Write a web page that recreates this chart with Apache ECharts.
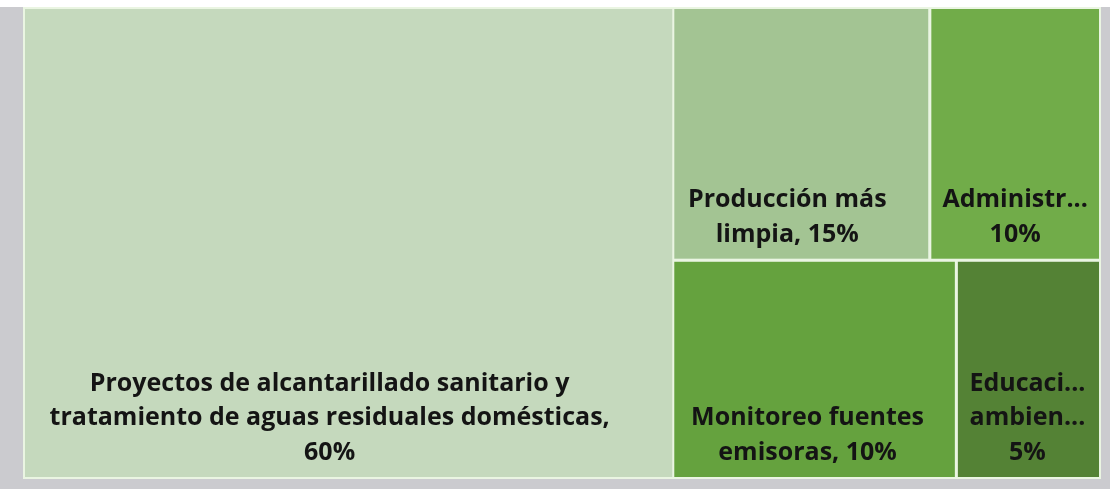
<!DOCTYPE html>
<html>
<head>
<meta charset="utf-8">
<script src="https://cdn.jsdelivr.net/npm/echarts@6/dist/echarts.min.js"></script>
<style>
  html, body { margin: 0; padding: 0; background: #cbcbcf; }
  #chart { width: 1110px; height: 489px; }
</style>
</head>
<body>
<div id="chart"></div>
<script>
// Category labels as displayed (truncated in the original); {p} = percentage
const labels = [
  "Proyectos de alcantarillado sanitario y\ntratamiento de aguas residuales domésticas,\n{p}%",
  "Producción más\nlimpia, {p}%",
  "Administr...\n{p}%",
  "Monitoreo fuentes\nemisoras, {p}%",
  "Educaci...\nambien...\n{p}%"
];
// Percentages printed in the labels
const pctLabels = [60, 15, 10, 10, 5];
// Tile area shares
const areaShares = [60.4, 12.8, 8.5, 12.2, 6.2];

// Styling (kept apart from the data)
const colors = ["#c5d9bd", "#a3c493", "#71ac49", "#65a23e", "#548235"];
const labelShiftX = [-19, -14, 0, -7, -1];

function leaf(i) {
  return {
    name: labels[i].replace(/\n/g, ' ').replace('{p}', pctLabels[i]),
    value: areaShares[i],
    labelText: labels[i].replace('{p}', pctLabels[i]),
    itemStyle: { color: colors[i] },
    label: { offset: [labelShiftX[i], 0] }
  };
}

const data = [
  leaf(0),
  {
    name: "rest",
    children: [
      { name: "top", children: [leaf(1), leaf(2)] },
      { name: "bottom", children: [leaf(3), leaf(4)] }
    ]
  }
];

const chart = echarts.init(document.getElementById('chart'));
chart.setOption({
  backgroundColor: '#cbcbcf',
  animation: false,
  graphic: [{
    type: 'rect', shape: { x: 0, y: 0, width: 1110, height: 7 },
    style: { fill: '#ffffff' }, z: -10
  }],
  series: [{
    type: 'treemap',
    left: 23, top: 7, width: 1078, height: 472,
    roam: false,
    nodeClick: false,
    breadcrumb: { show: false },
    squareRatio: 1,
    label: {
      show: true,
      position: 'insideBottom',
      distance: 2,
      align: 'center',
      overflow: 'none',
      fontFamily: 'Open Sans',
      fontWeight: 'bold',
      fontSize: 25,
      lineHeight: 34.5,
      color: '#141414',
      formatter: p => p.data.labelText
    },
    upperLabel: { show: false },
    itemStyle: { borderWidth: 0, gapWidth: 0 },
    levels: [
      { itemStyle: { borderWidth: 2, borderColor: '#eaf5e2', gapWidth: 2 } },
      { itemStyle: { borderWidth: 0, borderColor: '#eaf5e2', gapWidth: 3 } },
      { itemStyle: { borderWidth: 0, borderColor: '#eaf5e2', gapWidth: 3 } },
      { itemStyle: { borderWidth: 0 } }
    ],
    data: data
  }]
});
</script>
</body>
</html>
